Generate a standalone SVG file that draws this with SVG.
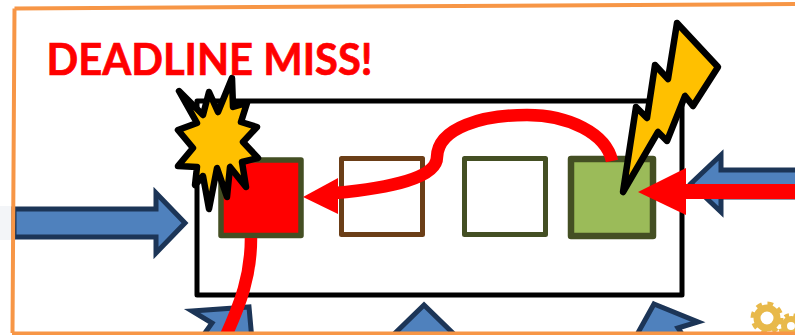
<svg xmlns="http://www.w3.org/2000/svg" width="795" height="335" viewBox="0 0 795 335">
  <style>
    .blue { fill: #4f81bd; stroke: #1c3557; stroke-width: 5; stroke-linejoin: miter; }
    .burst { fill: #ffc000; stroke: #000; stroke-width: 6.500; stroke-linejoin: round; }
    .red { fill: none; stroke: #f00; stroke-width: 12.500; }
    .head { fill: #f00; }
    .slot { stroke-linejoin: round; }
    .gear { fill: none; stroke: #e8b94a; }
  </style>
  <rect width="795" height="335" fill="#fff"/>
  <rect x="0" y="206" width="16" height="34" fill="#f3f5f8"/>

  <g id="box"><rect x="197" y="101" width="485" height="194" fill="#fff" stroke="#000" stroke-width="5" stroke-linejoin="round"/></g>

  <g id="arrow-left"><polygon class="blue" points="14,209 156,209 156,193 185,223 156,253 156,237 14,237"/></g>
  <g id="arrow-right"><polygon class="blue" points="800,170 721,170 721,155 691,183.500 721,212 721,197 800,197"/></g>
  <g id="arrow-bottom-1"><polygon class="blue" points="192,311 249,307 252,340 200,340 212,323"/></g>
  <g id="arrow-bottom-2"><polygon class="blue" points="424,305 388,340 460,340"/></g>
  <g id="arrow-bottom-3"><polygon class="blue" points="654,304 698,322 678,328 686,340 634,340"/></g>

  <g id="gears">
    <circle class="gear" cx="767" cy="318" r="10" stroke-width="7"/>
    <circle class="gear" cx="767" cy="318" r="14" stroke-width="5" stroke-dasharray="5.500 5.500"/>
    <circle class="gear" cx="791" cy="326" r="7" stroke-width="6"/>
    <circle class="gear" cx="791" cy="326" r="11" stroke-width="4" stroke-dasharray="4.500 4.500"/>
  </g>

  <g id="task-red"><rect class="slot" x="221" y="160" width="80" height="75.500" fill="#f00" stroke="#444f23" stroke-width="5.500"/></g>
  <g id="task-brown"><rect class="slot" x="341.500" y="158.500" width="81" height="76" fill="#fff" stroke="#6b3e17" stroke-width="5"/></g>
  <g id="task-olive"><rect class="slot" x="464.500" y="158.500" width="81" height="76" fill="#fff" stroke="#444f23" stroke-width="5"/></g>
  <g id="task-green"><rect class="slot" x="571" y="159" width="82" height="77" fill="#9bbb59" stroke="#444f23" stroke-width="6.500"/></g>

  <g id="connectors">
    <path class="red" d="M612 161 C606 133 568 115 527 115 C484 115 438 127 437 157 C437 178 390 188 335 193"/>
    <polygon class="head" points="303,197 338,178 338,214"/>
    <path class="red" d="M251 238 C251 275 241 303 224 340"/>
    <rect class="head" x="684" y="184" width="111" height="15"/>
    <polygon class="head" points="638,192 686,168 686,215"/>
  </g>

  <g id="burst"><polygon class="burst" points="179,91 203,115 209,92 218,112 232,78 233,107 247,103 241,122 257,127 243,142 258,158 242,162 246,187 230,167 227,197 217,168 209,209 203,176 195,185 197,167 178,166 193,148 178,130 197,123"/></g>
  <g id="lightning"><polygon class="burst" points="677,23 718,67 693,106 685,96 667,141 658,132 623,192 636,107 647,118 655,65 668,79"/></g>

  <g id="frame"><path d="M14.500 8.500 L795 4 M14.500 8.500 L12.500 333 M12 333.500 L795 333.500" fill="none" stroke="#f79646" stroke-width="4"/></g>

  <g id="title"><text x="46.500" y="75" font-family="Lato, 'Open Sans', sans-serif" font-weight="700" font-size="43" fill="#f00" stroke="#f00" stroke-width="0.700" textLength="326" lengthAdjust="spacingAndGlyphs">DEADLINE MISS!</text></g>
</svg>
